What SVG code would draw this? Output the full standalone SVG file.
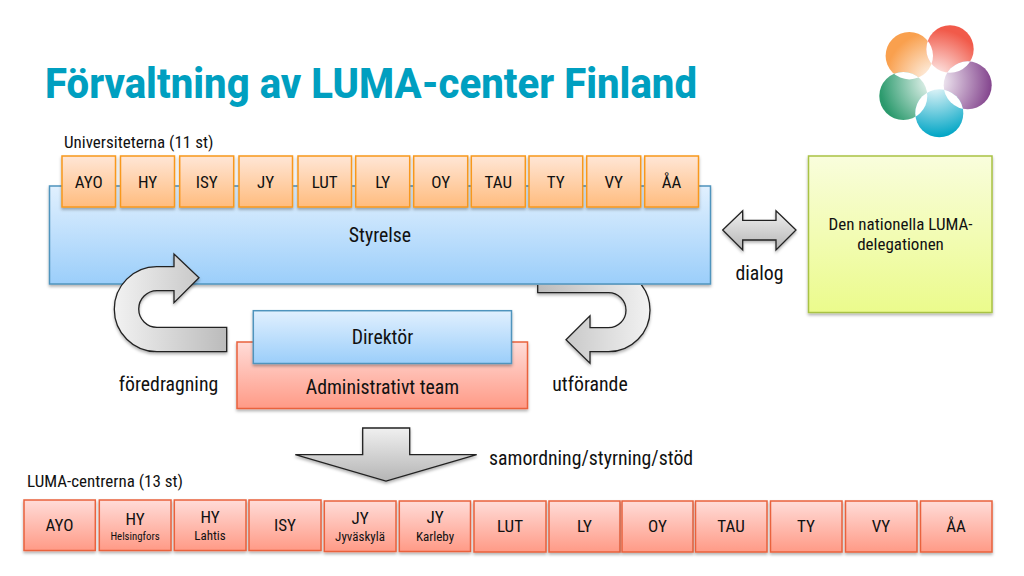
<svg xmlns="http://www.w3.org/2000/svg" width="1024" height="576" viewBox="0 0 1024 576">
<style>
text{font-family:Roboto,"Liberation Sans",sans-serif;fill:#111;font-stretch:condensed}
.c{text-anchor:middle}
.t{font-size:17px}
.s{font-size:13px}
.h{font-size:10.800px}
.l{font-size:19.800px}
.or{fill:url(#gO);stroke:#f8981d;stroke-width:1.5;filter:url(#sh)}
.bl{fill:url(#gB);stroke:#4f94bd;stroke-width:1.5;filter:url(#sh)}
.re{fill:url(#gR);stroke:#e9623d;stroke-width:1.5;filter:url(#sh)}
.gr{fill:url(#gG);stroke:#a9c244;stroke-width:1.5;filter:url(#sh)}
.ar{stroke:#222;stroke-width:1.3}
</style>
<defs>
<filter id="sh" x="-10%" y="-10%" width="120%" height="125%"><feDropShadow dx="0" dy="2" stdDeviation="1.600" flood-color="#000" flood-opacity="0.3"/></filter>
<linearGradient id="gO" x1="0" y1="0" x2="0" y2="1"><stop offset="0" stop-color="#ffe6d6"/><stop offset="1" stop-color="#ffbc7e"/></linearGradient>
<linearGradient id="gB" x1="0" y1="0" x2="0" y2="1"><stop offset="0" stop-color="#e1f0fe"/><stop offset="1" stop-color="#9bcefa"/></linearGradient>
<linearGradient id="gR" x1="0" y1="0" x2="0" y2="1"><stop offset="0" stop-color="#ffdcd8"/><stop offset="1" stop-color="#ff9a86"/></linearGradient>
<linearGradient id="gG" x1="0" y1="0" x2="0" y2="1"><stop offset="0" stop-color="#f9fddc"/><stop offset="1" stop-color="#ebfb8c"/></linearGradient>
<linearGradient id="aL"><stop offset="0" stop-color="#f2f2f2"/><stop offset="1" stop-color="#bbb"/></linearGradient>
<linearGradient id="aR" x1="1" y1="0" x2="0" y2="0"><stop offset="0" stop-color="#f2f2f2"/><stop offset="1" stop-color="#bbb"/></linearGradient>
<linearGradient id="aV" x1="0" y1="0" x2="0" y2="1"><stop offset="0" stop-color="#f0f0f0"/><stop offset="1" stop-color="#b5b5b5"/></linearGradient>
<radialGradient id="lO" gradientUnits="userSpaceOnUse" cx="935" cy="81" r="50"><stop offset="0" stop-color="#fff"/><stop offset="1" stop-color="#f9a04e"/></radialGradient>
<radialGradient id="lR" gradientUnits="userSpaceOnUse" cx="935" cy="81" r="52"><stop offset="0" stop-color="#fff"/><stop offset="1" stop-color="#f15a4a"/></radialGradient>
<radialGradient id="lP" gradientUnits="userSpaceOnUse" cx="935" cy="81" r="56"><stop offset="0" stop-color="#fff"/><stop offset="1" stop-color="#85478f"/></radialGradient>
<radialGradient id="lG" gradientUnits="userSpaceOnUse" cx="935" cy="81" r="56"><stop offset="0" stop-color="#fff"/><stop offset="1" stop-color="#2b9a6d"/></radialGradient>
<radialGradient id="lC" gradientUnits="userSpaceOnUse" cx="935" cy="81" r="56"><stop offset="0" stop-color="#fff"/><stop offset="1" stop-color="#00a5c5"/></radialGradient>
<clipPath id="cO"><circle cx="909.300" cy="55.700" r="23.700"/></clipPath>
<clipPath id="cP"><circle cx="967.700" cy="85.300" r="24"/></clipPath>
<clipPath id="cC"><circle cx="939.300" cy="113.300" r="24"/></clipPath>
<clipPath id="cU"><rect x="500" y="285" width="200" height="100"/></clipPath>
</defs>
<rect width="1024" height="576" fill="#fff"/>
<text id="title" x="45" y="98" font-size="42" font-weight="800" style="fill:#009fc0;font-stretch:normal" textLength="652" lengthAdjust="spacingAndGlyphs">Förvaltning av LUMA-center Finland</text>
<g id="logo">
<circle cx="909.300" cy="55.700" r="23.700" fill="url(#lO)"/>
<circle cx="950" cy="49" r="23.700" fill="url(#lR)"/>
<circle cx="967.700" cy="85.300" r="24" fill="url(#lP)"/>
<circle cx="903.300" cy="96" r="24" fill="url(#lG)"/>
<circle cx="939.300" cy="113.300" r="24" fill="url(#lC)"/>
<g fill="#fff">
<circle cx="950" cy="49" r="23.700" clip-path="url(#cO)"/>
<circle cx="950" cy="49" r="23.700" clip-path="url(#cP)"/>
<circle cx="903.300" cy="96" r="24" clip-path="url(#cO)"/>
<circle cx="903.300" cy="96" r="24" clip-path="url(#cC)"/>
<circle cx="967.700" cy="85.300" r="24" clip-path="url(#cC)"/>
</g>
</g>
<text x="64" y="147.500" class="t">Universiteterna (11 st)</text>
<g id="styrelse"><rect x="49.500" y="186" width="661" height="98" class="bl"/><text x="380" y="242" class="l c">Styrelse</text></g>
<g id="u-ayo"><rect x="62" y="156" width="53.500" height="51" class="or"/><text x="88.700" y="187.500" class="t c">AYO</text></g>
<g id="u-hy"><rect x="120.500" y="156" width="54" height="51" class="or"/><text x="147.500" y="187.500" class="t c">HY</text></g>
<g id="u-isy"><rect x="179.700" y="156" width="54" height="51" class="or"/><text x="206.700" y="187.500" class="t c">ISY</text></g>
<g id="u-jy"><rect x="239" y="156" width="53.500" height="51" class="or"/><text x="265.700" y="187.500" class="t c">JY</text></g>
<g id="u-lut"><rect x="298" y="156" width="53.500" height="51" class="or"/><text x="324.700" y="187.500" class="t c">LUT</text></g>
<g id="u-ly"><rect x="355.700" y="156" width="54" height="51" class="or"/><text x="382.700" y="187.500" class="t c">LY</text></g>
<g id="u-oy"><rect x="413.700" y="156" width="54" height="51" class="or"/><text x="440.700" y="187.500" class="t c">OY</text></g>
<g id="u-tau"><rect x="471.300" y="156" width="54" height="51" class="or"/><text x="498.300" y="187.500" class="t c">TAU</text></g>
<g id="u-ty"><rect x="529" y="156" width="53.700" height="51" class="or"/><text x="555.800" y="187.500" class="t c">TY</text></g>
<g id="u-vy"><rect x="586.700" y="156" width="54" height="51" class="or"/><text x="613.700" y="187.500" class="t c">VY</text></g>
<g id="u-aa"><rect x="644.700" y="156" width="53.800" height="51" class="or"/><text x="671.600" y="187.500" class="t c">ÅA</text></g>
<g id="delegation"><rect x="808.500" y="156" width="183.500" height="156.500" class="gr"/><text class="t c"><tspan x="900.500" y="230">Den nationella LUMA-</tspan><tspan x="900.500" y="250">delegationen</tspan></text></g>
<g id="team"><rect x="237" y="342" width="290.500" height="66.500" class="re"/><text x="382.500" y="393.500" class="l c">Administrativt team</text></g>
<g id="direktor"><rect x="253.300" y="310.700" width="258.200" height="52.800" class="bl"/><text x="382.500" y="343.500" class="l c">Direktör</text></g>
<g id="connectors">
<path id="a-foredragning" class="ar" fill="url(#aL)" filter="url(#sh)" d="M226.700 327.300H157A18.300 18.300 0 0 1 157 290.700H174V302.700L199 277.700L174 254V266.700H156.800A42.500 42.500 0 0 0 156.800 351.700H226.700Z"/>
<g filter="url(#sh)"><path id="a-utforande" class="ar" fill="url(#aR)" clip-path="url(#cU)" d="M537.700 268.700H608.500A41.500 41.500 0 0 1 608.500 351.700H590V363.300L566 339.700L590 315.700V327.700H608.500A17.500 17.500 0 0 0 608.500 292.700H537.700Z"/></g>
<path id="a-dialog" class="ar" fill="url(#aV)" filter="url(#sh)" d="M722.700 230L742.700 210.700V220.300H776V210.700L796 230L776 250V240H742.700V250Z"/>
<path id="a-styrning" class="ar" fill="url(#aV)" filter="url(#sh)" d="M362.700 428H409.700V454.700H476.700L386 481L295.300 454.700H362.700Z"/>
</g>
<text x="168.500" y="390.500" class="l c">föredragning</text>
<text x="590" y="390.500" class="l c">utförande</text>
<text x="759.500" y="280" class="l c">dialog</text>
<text x="489" y="465" class="l">samordning/styrning/stöd</text>
<text x="27" y="487" class="t">LUMA-centrerna (13 st)</text>
<g id="c-ayo"><rect x="24" y="500" width="71.300" height="50.500" class="re"/><text x="59.500" y="531" class="t c">AYO</text></g>
<g id="c-hy-h"><rect x="99.300" y="500" width="71.700" height="50.500" class="re"/><text x="135" y="525" class="t c">HY</text><text x="135" y="540" class="h c">Helsingfors</text></g>
<g id="c-hy-l"><rect x="174.300" y="500" width="71.700" height="50.500" class="re"/><text x="210" y="523" class="t c">HY</text><text x="210" y="540" class="s c">Lahtis</text></g>
<g id="c-isy"><rect x="249" y="500" width="72" height="50.500" class="re"/><text x="285" y="531" class="t c">ISY</text></g>
<g id="c-jy-j"><rect x="324.300" y="501" width="71.700" height="50.500" class="re"/><text x="360" y="524" class="t c">JY</text><text x="360" y="541" class="s c">Jyväskylä</text></g>
<g id="c-jy-k"><rect x="399.300" y="501" width="71.200" height="50.500" class="re"/><text x="435" y="523" class="t c">JY</text><text x="435" y="541" class="s c">Karleby</text></g>
<g id="c-lut"><rect x="474" y="501" width="72" height="51" class="re"/><text x="510" y="532" class="t c">LUT</text></g>
<g id="c-ly"><rect x="549" y="501" width="71" height="51" class="re"/><text x="584.500" y="532" class="t c">LY</text></g>
<g id="c-oy"><rect x="622" y="501" width="71" height="51" class="re"/><text x="657.500" y="532" class="t c">OY</text></g>
<g id="c-tau"><rect x="695.500" y="501" width="71.500" height="51" class="re"/><text x="731" y="532" class="t c">TAU</text></g>
<g id="c-ty"><rect x="770.500" y="501" width="71.500" height="51" class="re"/><text x="806" y="532" class="t c">TY</text></g>
<g id="c-vy"><rect x="845.500" y="501" width="71.500" height="51" class="re"/><text x="881" y="532" class="t c">VY</text></g>
<g id="c-aa"><rect x="920.500" y="501" width="71.500" height="51" class="re"/><text x="956" y="532" class="t c">ÅA</text></g>
</svg>
